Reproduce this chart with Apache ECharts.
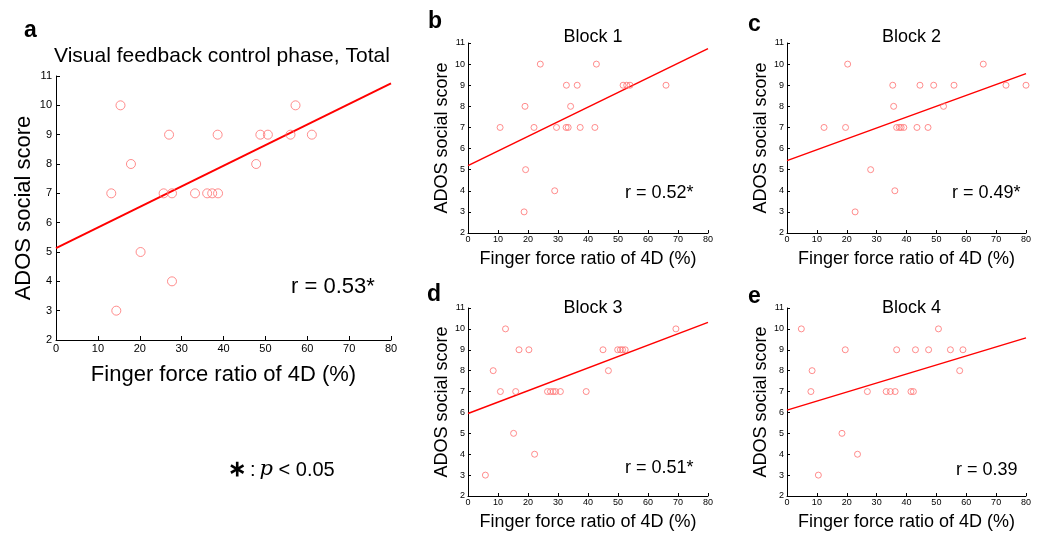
<!DOCTYPE html>
<html><head><meta charset="utf-8">
<script src="https://cdn.jsdelivr.net/npm/echarts@6/dist/echarts.min.js"></script>
<style>html,body{margin:0;padding:0;background:#fff}#c{width:1038px;height:535px}</style>
</head><body><div id="c"></div>
<script>
// ---- data ----
const xTicks = [0,10,20,30,40,50,60,70,80];
const yTicks = [2,3,4,5,6,7,8,9,10,11];

const totalX = [13.2,15.4,17.9,20.2,25.7,27.0,27.7,33.2,36.1,37.3,38.7,38.6,47.8,48.8,50.6,56.0,57.2,61.1,14.4,27.7];
const totalY = [7,10,8,5,7,9,7,7,7,7,7,9,8,9,9,9,10,9,3,4];
const totalFit = [[0,5.13],[80,10.75]];

const block1X = [10.7,19.0,22.0,24.1,29.5,32.8,32.7,33.4,34.2,36.4,37.4,42.3,42.8,51.7,52.9,54.0,66.0,19.2,18.7,28.9];
const block1Y = [7,8,7,10,7,9,7,7,8,9,7,7,10,9,9,9,9,5,3,4];
const block1Fit = [[0,5.19],[80,10.73]];

const block2X = [12.4,19.6,20.3,35.4,35.7,36.7,37.6,38.2,39.1,43.5,44.5,47.2,49.1,52.4,55.9,65.7,73.3,80.0,28.0,22.8,36.1];
const block2Y = [7,7,10,9,8,7,7,7,7,7,9,7,9,8,9,10,9,9,5,3,4];
const block2Fit = [[0,5.43],[80,9.55]];

const block3X = [8.4,10.8,12.5,15.9,17.0,20.3,26.5,27.5,28.4,29.2,30.8,39.4,45.0,46.8,49.9,50.8,51.5,52.4,69.3,15.2,5.8,22.2];
const block3Y = [8,7,10,7,9,9,7,7,7,7,7,7,9,8,9,9,9,9,10,5,3,4];
const block3Fit = [[0,5.95],[80,10.31]];

const block4X = [4.8,8.4,8.0,19.5,26.9,33.2,34.6,36.2,36.7,41.5,42.3,43.0,47.4,50.7,54.7,57.8,58.9,18.4,10.5,23.6];
const block4Y = [10,8,7,9,7,7,7,7,9,7,7,9,9,10,9,8,9,5,3,4];
const block4Fit = [[0,6.11],[80,9.57]];

const panelTitles = ['Visual feedback control phase, Total','Block 1','Block 2','Block 3','Block 4'];
const panelLetters = ['a','b','c','d','e'];
const rLabels = ['r = 0.53*','r = 0.52*','r = 0.49*','r = 0.51*','r = 0.39'];
const xName = 'Finger force ratio of 4D (%)';
const yName = 'ADOS social score';

// ---- layout ----
const FONT = '"Liberation Sans", Arial, Helvetica, sans-serif';
const grids = [
  {left:56, top:76, width:335, height:264},
  {left:468, top:43, width:240, height:190},
  {left:787, top:43, width:239, height:190},
  {left:468, top:308, width:240, height:188},
  {left:787, top:308, width:239, height:188}
];
const big = [true,false,false,false,false];
const xsAll = [totalX,block1X,block2X,block3X,block4X];
const ysAll = [totalY,block1Y,block2Y,block3Y,block4Y];
const fits = [totalFit,block1Fit,block2Fit,block3Fit,block4Fit];
const titleTops = [41,23,23,294,294];

function zip(a,b){return a.map((v,i)=>[v,b[i]]);}

const xAxes=[], yAxes=[], series=[], titles=[], graphics=[];
grids.forEach((g,i)=>{
  const B = big[i];
  const axLine = {show:true, lineStyle:{color:'#000', width:1}};
  xAxes.push({gridIndex:i, type:'value', min:xTicks[0], max:xTicks[xTicks.length-1], interval:10,
    axisLine:axLine, axisTick:{show:true, inside:true, length:B?4:3, lineStyle:{color:'#000'}},
    splitLine:{show:false},
    axisLabel:{fontFamily:FONT, fontSize:B?11:9, color:'#000', margin:B?3:2},
    name:xName, nameLocation:'middle', nameGap:B?24:17,
    nameTextStyle:{fontFamily:FONT, fontSize:B?22:18, color:'#000'}});
  yAxes.push({gridIndex:i, type:'value', min:yTicks[0], max:yTicks[yTicks.length-1], interval:1,
    axisLine:axLine, axisTick:{show:true, inside:true, length:B?4:3, lineStyle:{color:'#000'}},
    splitLine:{show:false},
    axisLabel:{fontFamily:FONT, fontSize:B?11:9, color:'#000', margin:B?4:3},
    name:yName, nameLocation:'middle', nameGap:B?21:17,
    nameTextStyle:{fontFamily:FONT, fontSize:B?22:18, color:'#000'}});
  series.push({type:'line', xAxisIndex:i, yAxisIndex:i, data:fits[i], symbol:'none', silent:true,
    lineStyle:{color:'#ff0000', width:B?2:1.5}, z:2});
  series.push({type:'scatter', xAxisIndex:i, yAxisIndex:i, data:zip(xsAll[i],ysAll[i]),
    symbol:'circle', symbolSize:B?9:6,
    itemStyle:{color:'rgba(0,0,0,0)', borderColor:'#ff7070', borderWidth:1}, z:3});
  if(i===0){
    titles.push({text:panelTitles[0], left:49, top:titleTops[0], textStyle:{fontFamily:FONT, fontSize:21, fontWeight:'normal', color:'#000'}});
  } else {
    titles.push({text:panelTitles[i], left:g.left+g.width/2, textAlign:'center', top:titleTops[i],
      textStyle:{fontFamily:FONT, fontSize:18, fontWeight:'normal', color:'#000'}});
  }
});

// letters
const letterPos = [[24,19],[428,10],[748,13],[427,283],[748,285]];
letterPos.forEach((p,i)=>graphics.push({type:'text', left:p[0], top:p[1],
  style:{text:panelLetters[i], font:'bold 23px '+FONT, fill:'#000'}}));
// r labels
const rPos = [[291,276,22],[625,184,18],[952,184,18],[625,459,18],[956,461,18]];
rPos.forEach((p,i)=>graphics.push({type:'text', left:p[0], top:p[1],
  style:{text:rLabels[i], font:p[2]+'px '+FONT, fill:'#000'}}));
// p note
graphics.push({type:'text', left:228, top:459, style:{
  rich:{s:{font:'bold 22px '+FONT, fill:'#000'}, t:{font:'20px '+FONT, fill:'#000'}, p:{font:'italic 21px "DejaVu Serif", "Liberation Serif", serif', fill:'#000'}},
  text:'{s|∗}{t|\u2009:\u2009}{p|p}{t| < 0.05}'}});

const chart = echarts.init(document.getElementById('c'), null, {renderer:'canvas'});
chart.setOption({
  animation:false, backgroundColor:'#fff',
  title:titles, grid:grids.map(g=>Object.assign({containLabel:false},g)),
  xAxis:xAxes, yAxis:yAxes, series:series, graphic:graphics
});
</script></body></html>
